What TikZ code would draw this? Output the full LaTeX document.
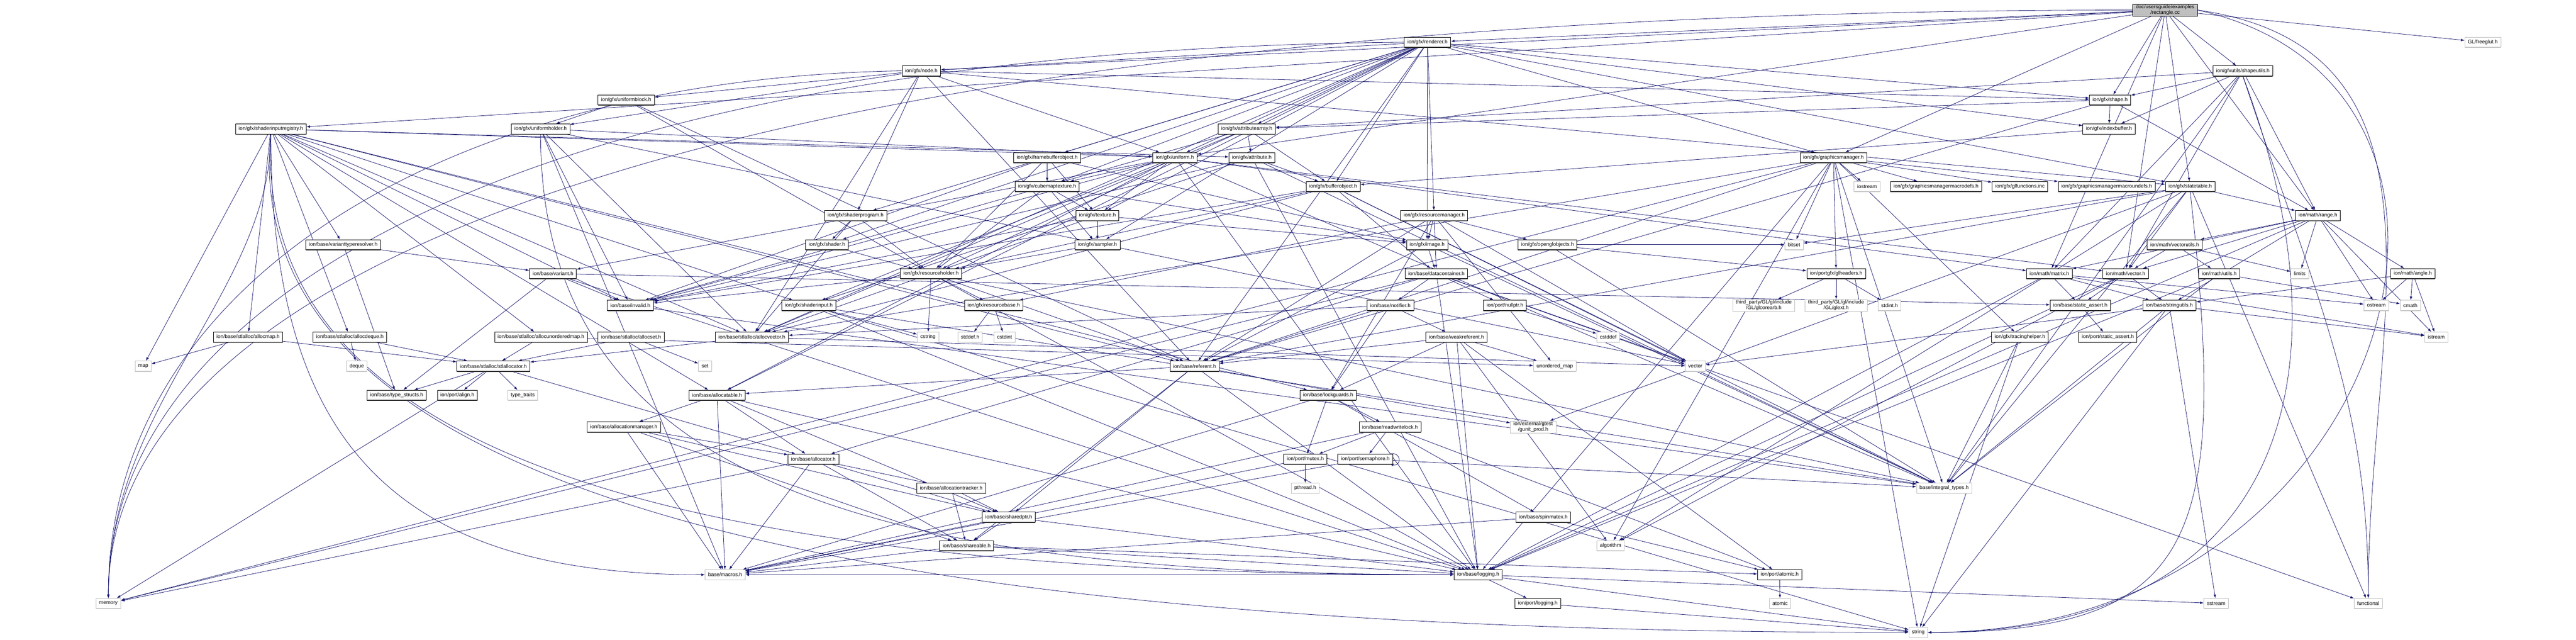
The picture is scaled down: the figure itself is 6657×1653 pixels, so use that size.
\documentclass[tikz,border=0pt]{standalone}
\usepackage{fontspec}
\setmainfont{Liberation Sans}
\usetikzlibrary{arrows.meta,shadows,backgrounds}
\definecolor{edgec}{HTML}{191970}
\definecolor{extc}{HTML}{BFBFBF}
\tikzset{
  hdr/.style={draw=black, line width=0.75pt, fill=white, inner xsep=6pt, inner ysep=1pt,
    minimum height=19.5pt, font=\fontsize{10}{11.5}\selectfont,
    drop shadow={shadow xshift=0pt, shadow yshift=-1.3pt, fill=black!70, opacity=1}},
  ext/.style={draw=extc, line width=0.75pt, fill=white, inner xsep=6pt, inner ysep=1pt,
    minimum height=19.5pt, font=\fontsize{10}{11.5}\selectfont,
    drop shadow={shadow xshift=0pt, shadow yshift=-1.3pt, fill=extc!70, opacity=1}},
  rootbox/.style={hdr, fill=extc, align=center},
  twoline/.style={align=center},
  dep/.style={draw=edgec, line width=0.8pt, -{Latex[length=7pt,width=5pt]}},
}
\begin{document}
\begin{tikzpicture}[x=0.75pt,y=-0.75pt]
\useasboundingbox (0,0) rectangle (6657,1653);
% ---------- nodes ----------
\node[rootbox] (root) at (5595,26) {doc/usersguide/examples\\/rectangle.cc};
\node[ext] (freeglut) at (6416,109) {GL/freeglut.h};
\node[hdr] (renderer) at (3689,109) {ion/gfx/renderer.h};
\node[hdr] (node) at (2381,183) {ion/gfx/node.h};
\node[hdr] (shapeutils) at (5796,183) {ion/gfxutils/shapeutils.h};
\node[hdr] (ublock) at (1618,258) {ion/gfx/uniformblock.h};
\node[hdr] (shape) at (5453,258) {ion/gfx/shape.h};
\node[hdr] (sir) at (700,333) {ion/gfx/shaderinputregistry.h};
\node[hdr] (uholder) at (1397,333) {ion/gfx/uniformholder.h};
\node[hdr] (attrarr) at (3222,333) {ion/gfx/attributearray.h};
\node[hdr] (ibuf) at (5450,333) {ion/gfx/indexbuffer.h};
\node[hdr] (fbo) at (2706,407) {ion/gfx/framebufferobject.h};
\node[hdr] (uniform) at (3036,407) {ion/gfx/uniform.h};
\node[hdr] (attribute) at (3235,407) {ion/gfx/attribute.h};
\node[hdr] (gm) at (4738,407) {ion/gfx/graphicsmanager.h};
\node[hdr] (cubetex) at (2706,482) {ion/gfx/cubemaptexture.h};
\node[hdr] (bufobj) at (3445,482) {ion/gfx/bufferobject.h};
\node[ext] (iostream) at (4825,482) {iostream};
\node[hdr] (gmdefs) at (5003,482) {ion/gfx/graphicsmanagermacrodefs.h};
\node[hdr] (glfunc) at (5220,482) {ion/gfx/glfunctions.inc};
\node[hdr] (gmundefs) at (5444,482) {ion/gfx/graphicsmanagermacroundefs.h};
\node[hdr] (stable) at (5660,482) {ion/gfx/statetable.h};
\node[hdr] (sprog) at (2211,557) {ion/gfx/shaderprogram.h};
\node[hdr] (texture) at (2836,557) {ion/gfx/texture.h};
\node[hdr] (resmgr) at (3706,557) {ion/gfx/resourcemanager.h};
\node[hdr] (range) at (5990,557) {ion/math/range.h};
\node[hdr] (vtr) at (887,632) {ion/base/varianttyperesolver.h};
\node[hdr] (shader) at (2137,632) {ion/gfx/shader.h};
\node[hdr] (sampler) at (2836,632) {ion/gfx/sampler.h};
\node[hdr] (image) at (3688,632) {ion/gfx/image.h};
\node[hdr] (globj) at (3999,632) {ion/gfx/openglobjects.h};
\node[ext] (bitset) at (4636,632) {bitset};
\node[hdr] (vecutils) at (5620,632) {ion/math/vectorutils.h};
\node[hdr] (variant) at (1429,707) {ion/base/variant.h};
\node[hdr] (resholder) at (2406,707) {ion/gfx/resourceholder.h};
\node[hdr] (datac) at (3712,707) {ion/base/datacontainer.h};
\node[hdr] (glhead) at (4745,707) {ion/portgfx/glheaders.h};
\node[hdr] (matrix) at (5296,707) {ion/math/matrix.h};
\node[hdr] (vector) at (5493,707) {ion/math/vector.h};
\node[hdr] (mutils) at (5735,707) {ion/math/utils.h};
\node[ext] (limits) at (5943,707) {limits};
\node[hdr] (angle) at (6235,707) {ion/math/angle.h};
\node[hdr] (invalid) at (1629,789) {ion/base/invalid.h};
\node[hdr] (sinput) at (2090,789) {ion/gfx/shaderinput.h};
\node[hdr] (resbase) at (2568,789) {ion/gfx/resourcebase.h};
\node[hdr] (notifier) at (3593,789) {ion/base/notifier.h};
\node[hdr] (nullptr) at (3889,789) {ion/port/nullptr.h};
\node[ext,twoline] (glcore) at (4558,789) {third\_party/GL/gl/include\\/GL/glcorearb.h};
\node[ext,twoline] (glext) at (4745,789) {third\_party/GL/gl/include\\/GL/glext.h};
\node[ext] (stdinth) at (4883,789) {stdint.h};
\node[hdr] (sassert) at (5376,789) {ion/base/static\_assert.h};
\node[hdr] (strutils) at (5606,789) {ion/base/stringutils.h};
\node[ext] (ostream) at (6141,789) {ostream};
\node[ext] (cmath) at (6229,789) {cmath};
\node[hdr] (amap) at (641,871) {ion/base/stlalloc/allocmap.h};
\node[hdr] (adeque) at (904,871) {ion/base/stlalloc/allocdeque.h};
\node[hdr] (aumap) at (1398,871) {ion/base/stlalloc/allocunorderedmap.h};
\node[hdr] (aset) at (1631,871) {ion/base/stlalloc/allocset.h};
\node[hdr] (avector) at (1943,871) {ion/base/stlalloc/allocvector.h};
\node[ext] (cstring) at (2398,871) {cstring};
\node[ext] (stddefh) at (2507,871) {stddef.h};
\node[ext] (cstdint) at (2596,871) {cstdint};
\node[hdr] (weakref) at (3764,871) {ion/base/weakreferent.h};
\node[ext] (cstddef) at (4156,871) {cstddef};
\node[hdr] (tracing) at (5220,871) {ion/gfx/tracinghelper.h};
\node[hdr] (psassert) at (5447,871) {ion/port/static\_assert.h};
\node[ext] (istream) at (6296,871) {istream};
\node[ext] (map) at (370,946) {map};
\node[ext] (deque) at (922,946) {deque};
\node[hdr] (stlalloc) at (1275,946) {ion/base/stlalloc/stlallocator.h};
\node[ext] (set) at (1822,946) {set};
\node[hdr] (referent) at (3087,946) {ion/base/referent.h};
\node[ext] (umap) at (4018,946) {unordered\_map};
\node[ext] (stdvector) at (4381,946) {vector};
\node[hdr] (tstructs) at (1025,1021) {ion/base/type\_structs.h};
\node[hdr] (align) at (1182,1021) {ion/port/align.h};
\node[ext] (ttraits) at (1351,1021) {type\_traits};
\node[hdr] (allocatable) at (1853,1021) {ion/base/allocatable.h};
\node[hdr] (lockguards) at (3432,1021) {ion/base/lockguards.h};
\node[hdr] (amgr) at (1612,1103) {ion/base/allocationmanager.h};
\node[hdr] (rwlock) at (3592,1103) {ion/base/readwritelock.h};
\node[ext,twoline] (gtest) at (3962,1103) {ion/external/gtest\\/gunit\_prod.h};
\node[hdr] (allocator) at (2102,1186) {ion/base/allocator.h};
\node[hdr] (mutex) at (3373,1186) {ion/port/mutex.h};
\node[hdr] (semaphore) at (3528,1186) {ion/port/semaphore.h};
\node[hdr] (atracker) at (2458,1261) {ion/base/allocationtracker.h};
\node[ext] (pthread) at (3373,1261) {pthread.h};
\node[ext] (inttypes) at (5024,1261) {base/integral\_types.h};
\node[hdr] (sharedptr) at (2607,1336) {ion/base/sharedptr.h};
\node[hdr] (spinmutex) at (3988,1336) {ion/base/spinmutex.h};
\node[hdr] (shareable) at (2498,1410) {ion/base/shareable.h};
\node[ext] (algorithm) at (4162,1410) {algorithm};
\node[ext] (macros) at (1874,1485) {base/macros.h};
\node[hdr] (logging) at (3820,1485) {ion/base/logging.h};
\node[hdr] (patomic) at (4599,1485) {ion/port/atomic.h};
\node[ext] (memory) at (280,1559) {memory};
\node[hdr] (plogging) at (3974,1559) {ion/port/logging.h};
\node[ext] (atomic) at (4600,1559) {atomic};
\node[ext] (sstream) at (5727,1559) {sstream};
\node[ext] (functional) at (6120,1559) {functional};
\node[ext] (string) at (4957,1634) {string};
% ---------- edges ----------
\begin{scope}[on background layer]
\foreach \s/\t in {
 root/freeglut, root/node, root/renderer, root/shapeutils, root/shape, root/stable,
 root/uniform, root/sir, root/gm, root/matrix, root/range, root/vector,
 renderer/node, renderer/gm, renderer/resmgr, renderer/fbo, renderer/attrarr, renderer/bufobj,
 renderer/cubetex, renderer/ibuf, renderer/sprog, renderer/shader, renderer/sampler,
 renderer/texture, renderer/image, renderer/shape, renderer/stable, renderer/uniform,
 renderer/allocatable, renderer/referent, renderer/avector,
 node/ublock, node/uholder, node/sprog, node/shape, node/stable, node/uniform,
 node/referent, node/avector,
 ublock/uholder, ublock/resholder, ublock/referent,
 uholder/uniform, uholder/avector, uholder/invalid, uholder/stdvector,
 uholder/macros,
 sir/attribute, sir/uniform, sir/amap, sir/adeque, sir/aumap, sir/avector, sir/allocatable,
 sir/referent, sir/invalid, sir/lockguards, sir/sinput,
 sir/vtr, sir/map,
 attrarr/attribute, attrarr/bufobj, attrarr/resholder, attrarr/avector, attrarr/invalid,
 attribute/sinput, attribute/bufobj, attribute/invalid, attribute/logging, attribute/inttypes,
 uniform/cubetex, uniform/texture, uniform/sinput, uniform/variant, uniform/invalid,
 uniform/matrix, uniform/vector, uniform/allocatable, uniform/logging, uniform/inttypes,
 fbo/cubetex, fbo/texture, fbo/image, fbo/resholder, fbo/invalid,
 cubetex/texture, cubetex/image, cubetex/sampler, cubetex/resholder,
 texture/sampler, texture/image, texture/resholder, texture/invalid,
 sprog/shader, sprog/resholder, sprog/avector,
 shader/resholder, sampler/resholder,
 bufobj/resholder, bufobj/datac, bufobj/avector, bufobj/invalid, bufobj/stdvector, bufobj/inttypes,
 gm/iostream, gm/gmdefs, gm/glfunc, gm/gmundefs, gm/glhead, gm/bitset, gm/tracing, gm/referent,
 gm/avector, gm/logging, gm/string, gm/memory, gm/inttypes, gm/algorithm,
 stable/range, stable/vector, stable/bitset, stable/referent, stable/inttypes, stable/functional,
 stable/algorithm, stable/gtest,
 resmgr/image, resmgr/globj, resmgr/datac, resmgr/resbase, resmgr/referent, resmgr/lockguards,
 resmgr/umap, resmgr/stdvector,
 image/datac, image/referent, image/inttypes,
 globj/glhead, globj/bitset, globj/inttypes,
 datac/notifier, datac/nullptr, datac/stdvector, datac/allocator, datac/logging, datac/memory,
 datac/functional,
 glhead/glcore, glhead/glext, glhead/stdinth,
 notifier/weakref, notifier/lockguards, notifier/avector, notifier/referent,
 nullptr/cstddef,
 weakref/referent, weakref/lockguards, weakref/logging, weakref/umap, weakref/algorithm,
 weakref/patomic,
 referent/allocatable, referent/sharedptr, referent/shareable, referent/logging, referent/gtest,
 allocatable/amgr, allocatable/allocator, allocatable/sharedptr, allocatable/macros, allocatable/logging,
 amgr/allocator, amgr/sharedptr, amgr/shareable, amgr/macros,
 allocator/atracker, allocator/sharedptr, allocator/shareable, allocator/macros, allocator/memory,
 atracker/sharedptr, atracker/shareable,
 sharedptr/shareable, sharedptr/macros, sharedptr/logging,
 shareable/macros, shareable/patomic, shareable/logging,
 lockguards/mutex, lockguards/rwlock, lockguards/spinmutex, lockguards/macros,
 rwlock/mutex, rwlock/semaphore, rwlock/patomic, rwlock/macros,
 mutex/pthread, mutex/macros,
 semaphore/inttypes, semaphore/macros,
 spinmutex/patomic, spinmutex/macros,
 patomic/atomic,
 logging/plogging, logging/string, logging/sstream, logging/macros,
 plogging/string,
 range/vecutils, range/vector, range/matrix, range/limits, range/angle, range/strutils,
 range/ostream, range/istream, range/logging,
 vecutils/vector, vecutils/mutils, vecutils/limits,
 matrix/sassert, matrix/strutils, matrix/ostream, matrix/istream, matrix/logging,
 vector/sassert, vector/strutils, vector/logging, vector/algorithm,
 mutils/cmath, mutils/logging, mutils/inttypes,
 angle/strutils, angle/ostream, angle/cmath, angle/istream,
 strutils/istream, strutils/string, strutils/sstream, strutils/stdvector, strutils/inttypes,
 sassert/psassert,
 tracing/inttypes, tracing/string,
 amap/map, amap/stlalloc, adeque/deque, adeque/stlalloc, aumap/umap, aumap/stlalloc,
 aset/set, aset/stlalloc, avector/stlalloc, avector/stdvector,
 stlalloc/tstructs, stlalloc/align, stlalloc/ttraits, stlalloc/allocator, stlalloc/memory,
 variant/invalid, variant/tstructs, variant/sassert, variant/logging,
 vtr/variant, vtr/tstructs,
 sinput/cstring, sinput/inttypes, sinput/logging, sinput/string,
 resholder/resbase, resholder/cstring, resholder/invalid, resholder/referent, resholder/avector,
 resholder/logging, resholder/inttypes,
 resbase/stddefh, resbase/cstdint,
 invalid/inttypes,
 shape/ibuf, shape/attrarr, shape/referent, shape/range,
 ibuf/bufobj,
 shapeutils/shape, shapeutils/ibuf, shapeutils/range, shapeutils/matrix, shapeutils/vector,
 shapeutils/attrarr, shapeutils/inttypes}
 {\draw[dep] (\s) -- (\t);}
% long curved connectors, as in the reference
\draw[dep] (root.west) .. controls +(-3500,0) and +(0,-900) .. (memory.north);
\draw[dep] (renderer.west) .. controls +(-2200,20) and +(0,-800) .. (memory.north);
\draw[dep] (node.west) .. controls +(-1200,20) and +(0,-800) .. (memory.north);
\draw[dep] (sir.south) .. controls +(0,400) and +(0,-500) .. (memory.north);
\draw[dep] (sir.south) .. controls +(-100,1000) and +(-2500,0) .. (string.west);
\draw[dep] (sir.south) .. controls +(-50,900) and +(-1800,0) .. (logging.west);
\draw[dep] (sir.south) .. controls +(0,800) and +(-800,0) .. (macros.west);
\draw[dep] (uholder.south) .. controls +(0,900) and +(-1500,0) .. (logging.west);
\draw[dep] (root.east) .. controls +(900,200) and +(1200,0) .. (string.east);
\draw[dep] (root.east) .. controls +(700,100) and +(0,-700) .. (functional.north);
\draw[dep] (shapeutils.south) .. controls +(300,800) and +(900,0) .. (string.east);
\draw[dep] (shapeutils.south) .. controls +(200,600) and +(0,-500) .. (functional.north);
\draw[dep] (stable.south) .. controls +(100,900) and +(700,0) .. (string.east);
\draw[dep] ([xshift=-6pt]semaphore.north east) to[out=10,in=-10,looseness=3] ([xshift=-6pt]semaphore.south east);
\end{scope}
\end{tikzpicture}
\end{document}
